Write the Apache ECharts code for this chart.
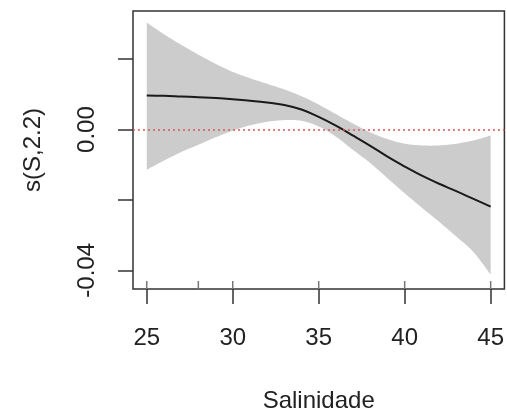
<!DOCTYPE html>
<html>
<head>
<meta charset="utf-8">
<script src="https://cdn.jsdelivr.net/npm/echarts@6/dist/echarts.min.js"></script>
<style>
html,body{margin:0;padding:0;background:#fff;}
#c{width:507px;height:418px;}
</style>
</head>
<body>
<div id="c"></div>
<script>
// Salinity values (x)
var salinity = [25,26,27,28,29,30,31,32,33,34,35,36,37,38,39,40,41,42,43,44,45];
// Smooth estimate s(S,2.2)
var fit = [0.0097,0.0096,0.0094,0.0092,0.0090,0.0086,0.0082,0.0077,0.0070,0.0057,0.0036,0.0011,-0.0017,-0.0046,-0.0077,-0.0105,-0.0131,-0.0154,-0.0175,-0.0197,-0.0219];
// Upper confidence band
var upper = [0.0304,0.0271,0.0241,0.0213,0.0187,0.0164,0.0146,0.0130,0.0114,0.0095,0.0071,0.0044,0.0017,-0.0008,-0.0027,-0.0040,-0.0045,-0.0045,-0.0040,-0.0031,-0.0017];
// Lower confidence band
var lower = [-0.0114,-0.0088,-0.0064,-0.0043,-0.0022,-0.0003,0.0012,0.0022,0.0027,0.0025,0.0009,-0.0020,-0.0058,-0.0095,-0.0138,-0.0181,-0.0222,-0.0262,-0.0304,-0.0348,-0.0412];
// Rug (observed salinities)
var rug = [25,28,30,35,40,45];
// Axis ticks and labels
var xTicks = [25,30,35,40,45];
var yTicks = [-0.04,-0.02,0,0.02];
var yTickLabels = [-0.04,0];

var yMin = -0.0453, yMax = 0.0337;
var fitPairs = salinity.map(function(x,i){return [x, fit[i]];});
var bandRows = salinity.map(function(x,i){return [x, lower[i], upper[i]];});
var rugRows = rug.map(function(x){return [x, yMin];});

// Catmull-Rom densification in pixel space (for a smooth band outline)
function smoothPts(pts){
  var out = [];
  for (var i=0;i<pts.length-1;i++){
    var p0 = pts[Math.max(0,i-1)], p1 = pts[i], p2 = pts[i+1], p3 = pts[Math.min(pts.length-1,i+2)];
    for (var t=0;t<1;t+=0.1){
      var t2=t*t, t3=t2*t;
      out.push([
        0.5*((2*p1[0])+(-p0[0]+p2[0])*t+(2*p0[0]-5*p1[0]+4*p2[0]-p3[0])*t2+(-p0[0]+3*p1[0]-3*p2[0]+p3[0])*t3),
        0.5*((2*p1[1])+(-p0[1]+p2[1])*t+(2*p0[1]-5*p1[1]+4*p2[1]-p3[1])*t2+(-p0[1]+3*p1[1]-3*p2[1]+p3[1])*t3)
      ]);
    }
  }
  out.push(pts[pts.length-1]);
  return out;
}

var FONT = 'Liberation Sans';
var chart = echarts.init(document.getElementById('c'), null, {renderer:'canvas'});
chart.setOption({
  animation:false,
  backgroundColor:'#ffffff',
  grid:{left:133, top:11, right:2, bottom:128, show:true, borderColor:'#333', borderWidth:1.5, backgroundColor:'transparent'},
  xAxis:{
    type:'value', min:24.2, max:45.8,
    name:'Salinidade', nameLocation:'middle', nameGap:100,
    nameTextStyle:{fontFamily:FONT, fontSize:24, color:'#222'},
    axisLine:{show:false, onZero:false},
    splitLine:{show:false},
    axisTick:{show:true, inside:false, length:15, customValues:xTicks, lineStyle:{color:'#333', width:1.5}},
    axisLabel:{show:true, customValues:xTicks, margin:37, fontFamily:FONT, fontSize:24, color:'#222'}
  },
  yAxis:{
    type:'value', min:yMin, max:yMax,
    name:'s(S,2.2)', nameLocation:'middle', nameGap:88, nameRotate:90,
    nameTextStyle:{fontFamily:FONT, fontSize:24, color:'#222'},
    axisLine:{show:false, onZero:false},
    splitLine:{show:false},
    axisTick:{show:true, inside:false, length:15, customValues:yTicks, lineStyle:{color:'#333', width:1.5}},
    axisLabel:{show:true, customValues:yTickLabels, rotate:90, margin:34, fontFamily:FONT, fontSize:24, color:'#222',
      formatter:function(v){return v.toFixed(2);}}
  },
  series:[
    {type:'custom', data:bandRows, z:1, silent:true,
     renderItem:function(params, api){
       if (params.dataIndex !== 0) return null;
       var up = [], lo = [];
       for (var i=0;i<bandRows.length;i++){
         up.push(api.coord([bandRows[i][0], bandRows[i][2]]));
         lo.push(api.coord([bandRows[i][0], bandRows[i][1]]));
       }
       var pts = smoothPts(up).concat(smoothPts(lo).reverse());
       return {type:'polygon', shape:{points:pts}, style:{fill:'#cccccc', stroke:null}};
     }},
    {type:'line', data:fitPairs, smooth:0.4, symbol:'none', lineStyle:{color:'#1a1a1a', width:2}, z:3,
     markLine:{silent:true, symbol:['none','none'], label:{show:false},
       lineStyle:{color:'#dd5555', type:[2,3], width:1.5},
       data:[{yAxis:0}]}},
    {type:'custom', data:rugRows, z:4, silent:true,
     renderItem:function(params, api){
       var p = api.coord([api.value(0), api.value(1)]);
       return {type:'line', shape:{x1:p[0], y1:p[1], x2:p[0], y2:p[1]-8}, style:{stroke:'#777', lineWidth:1.5}};
     }}
  ]
});
</script>
</body>
</html>
